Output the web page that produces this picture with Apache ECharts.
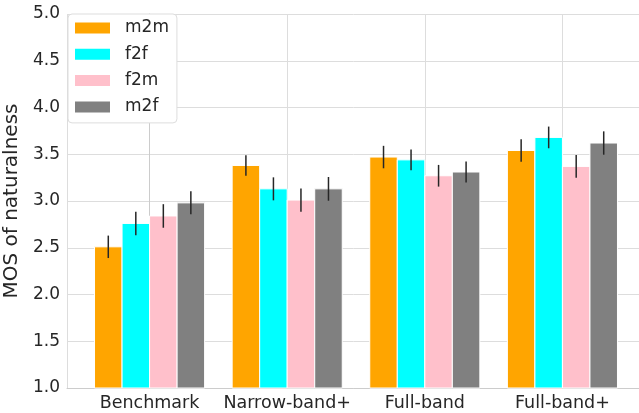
<!DOCTYPE html>
<html><head><meta charset="utf-8">
<script src="https://cdn.jsdelivr.net/npm/echarts@6/dist/echarts.min.js"></script>
<style>html,body{margin:0;padding:0;background:#fff}#c{width:639px;height:413px}</style>
</head><body><div id="c"></div>
<script>
const categories = ['Benchmark', 'Narrow-band+', 'Full-band', 'Full-band+'];
const seriesNames = ['m2m', 'f2f', 'f2m', 'm2f'];
const colors = ['#FFA500', '#00FFFF', '#FFC0CB', '#808080'];
const m2m = [2.51, 3.38, 3.47, 3.54];
const f2f = [2.76, 3.13, 3.44, 3.68];
const f2m = [2.84, 3.01, 3.27, 3.37];
const m2f = [2.98, 3.13, 3.31, 3.62];
const m2mErr = [0.12, 0.11, 0.12, 0.12];
const f2fErr = [0.125, 0.123, 0.11, 0.116];
const f2mErr = [0.126, 0.125, 0.116, 0.121];
const m2fErr = [0.123, 0.127, 0.112, 0.125];
const yTicks = [1.0, 1.5, 2.0, 2.5, 3.0, 3.5, 4.0, 4.5, 5.0];

const values = [m2m, f2f, f2m, m2f];
const errs = [m2mErr, f2fErr, f2mErr, m2fErr];
const barW = 0.2;

const series = seriesNames.map((name, k) => ({
  name: name,
  type: 'custom',
  itemStyle: { color: colors[k] },
  data: categories.map((c, i) => [i, values[k][i], errs[k][i]]),
  encode: { x: 0, y: 1 },
  renderItem: function (params, api) {
    const i = api.value(0), v = api.value(1), e = api.value(2);
    const xc = i + (k - 1.5) * barW;
    const p0 = api.coord([xc - barW / 2, v]);
    const p1 = api.coord([xc + barW / 2, yTicks[0]]);
    const top = api.coord([xc, v + e]);
    const bot = api.coord([xc, v - e]);
    return {
      type: 'group',
      children: [
        { type: 'rect', shape: { x: p0[0], y: p0[1], width: p1[0] - p0[0], height: p1[1] - p0[1] },
          style: { fill: colors[k], stroke: '#ffffff', lineWidth: 1 } },
        { type: 'line', shape: { x1: top[0], y1: top[1], x2: bot[0], y2: bot[1] },
          style: { stroke: '#262626', lineWidth: 1.5 } }
      ]
    };
  }
}));

const chart = echarts.init(document.getElementById('c'), null, { renderer: 'canvas' });
chart.setOption({
  animation: false,
  backgroundColor: '#ffffff',
  textStyle: { fontFamily: 'DejaVu Sans' },
  grid: { left: 67, top: 14, width: 578, height: 374, containLabel: false, outerBoundsMode: 'none' },
  legend: {
    orient: 'vertical', left: 68, top: 14,
    padding: [4, 8, 6, 7],
    backgroundColor: '#ffffff', borderColor: '#dddddd', borderWidth: 1, borderRadius: 4,
    itemWidth: 35, itemHeight: 11, itemGap: 6.3, icon: 'rect',
    textStyle: { fontSize: 17, color: '#262626', fontFamily: 'DejaVu Sans', lineHeight: 20, padding: [0, 0, 0, 10] },
    data: seriesNames
  },
  xAxis: {
    type: 'value', min: -0.6, max: 3.6, splitNumber: 4,
    axisLine: { show: true, lineStyle: { color: '#cccccc', width: 1 } },
    axisTick: { show: false },
    splitLine: { show: true, lineStyle: { color: '#dddddd', width: 1 } },
    axisLabel: {
      fontSize: 17.5, color: '#262626', margin: 6, fontFamily: 'DejaVu Sans',
      showMinLabel: false, showMaxLabel: false,
      formatter: v => (Math.abs(v - Math.round(v)) < 1e-9 && categories[Math.round(v)] !== undefined) ? categories[Math.round(v)] : ''
    }
  },
  yAxis: {
    type: 'value', min: 1, max: 5, interval: 0.5,
    name: 'MOS of naturalness', nameLocation: 'middle', nameGap: 44,
    nameTextStyle: { fontSize: 20, color: '#262626', fontFamily: 'DejaVu Sans' },
    axisLine: { show: true, lineStyle: { color: '#cccccc', width: 1 } },
    axisTick: { show: false },
    splitLine: { show: true, lineStyle: { color: '#dddddd', width: 1 } },
    axisLabel: { fontSize: 17, color: '#262626', margin: 7, fontFamily: 'DejaVu Sans', formatter: v => v.toFixed(1) }
  },
  series: series
});
</script></body></html>
